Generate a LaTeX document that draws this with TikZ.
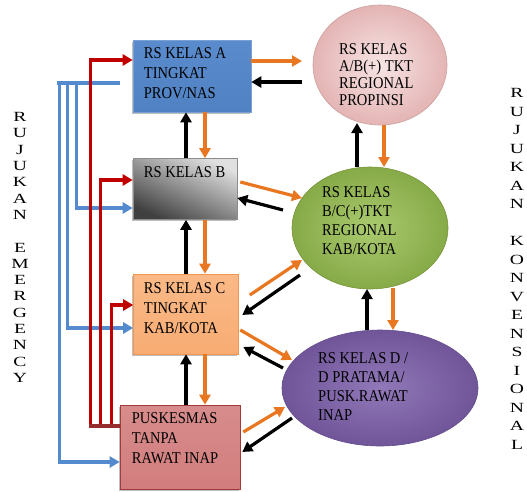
\documentclass[tikz,border=0pt]{standalone}
\usepackage{fontspec}
\setmainfont{Liberation Serif}
\newfontfamily\widefont{Liberation Serif}[FakeStretch=1.4]
\newfontfamily\boxfont{Liberation Serif}[FakeStretch=0.88]
\usetikzlibrary{arrows.meta,shadows,shapes.geometric}

\definecolor{rjorange}{RGB}{233,119,34}
\definecolor{rjred}{RGB}{192,0,0}
\definecolor{rjbar}{RGB}{150,45,45}
\definecolor{rjblue}{RGB}{84,138,206}

\tikzstyle{orangearr} = [draw=rjorange, line width=3.2pt, -{Triangle[length=10pt,width=11pt]}]
\tikzstyle{blackarr} = [draw=black, line width=3.2pt, -{Triangle[length=10pt,width=11pt]}]
\tikzstyle{redarr} = [draw=rjred, line width=3.2pt, -{Triangle[length=10pt,width=11pt]}]
\tikzstyle{bluearr} = [draw=rjblue, line width=3.2pt, -{Triangle[length=10pt,width=11pt]}]
\tikzstyle{box} = [rectangle, inner sep=0pt, line width=0.6pt, drop shadow={shadow xshift=-1.5pt, shadow yshift=-1.5pt, opacity=0.5}]
\tikzstyle{oval} = [ellipse, inner sep=0pt, line width=0.6pt]
\tikzstyle{lbl} = [inner sep=0pt, anchor=west, align=left, font=\boxfont\fontsize{16.5}{20}\selectfont]
\tikzstyle{side} = [inner sep=0pt, align=center, font=\widefont\fontsize{14}{16.3}\selectfont]

\begin{document}
\begin{tikzpicture}[x=1pt, y=-1pt]
\useasboundingbox (0,0) rectangle (527,491);
%begin boxes
\node[box, draw={rgb,255:red,120;green,160;blue,210}, top color={rgb,255:red,90;green,140;blue,205}, middle color={rgb,255:red,125;green,165;blue,220}, bottom color={rgb,255:red,80;green,130;blue,195}, minimum width=118pt, minimum height=72pt] (A) at (192,76) {};
\node[box, draw=black!45, top color=black!12, bottom color=black!75, shading angle=-25, minimum width=104pt, minimum height=61pt] (B) at (185,189) {};
\node[box, draw={rgb,255:red,240;green,150;blue,80}, top color={rgb,255:red,250;green,185;blue,135}, middle color={rgb,255:red,245;green,148;blue,65}, bottom color={rgb,255:red,248;green,172;blue,115}, minimum width=105pt, minimum height=80pt] (C) at (186,314) {};
\node[box, draw={rgb,255:red,160;green,60;blue,60}, top color={rgb,255:red,215;green,140;blue,140}, middle color={rgb,255:red,192;green,80;blue,77}, bottom color={rgb,255:red,210;green,125;blue,125}, minimum width=120pt, minimum height=84pt] (P) at (180,447) {};
%end boxes
%begin ovals
\node[oval, draw={rgb,255:red,205;green,160;blue,160}, inner color={rgb,255:red,247;green,228;blue,228}, outer color={rgb,255:red,228;green,180;blue,180}, minimum width=134pt, minimum height=120pt] (pink) at (380,65) {};
\node[oval, draw={rgb,255:red,120;green,150;blue,60}, inner color={rgb,255:red,170;green,202;blue,110}, outer color={rgb,255:red,135;green,170;blue,72}, minimum width=156pt, minimum height=122pt] (green) at (370,228) {};
\node[oval, draw={rgb,255:red,100;green,75;blue,140}, inner color={rgb,255:red,145;green,120;blue,185}, outer color={rgb,255:red,112;green,86;blue,152}, minimum width=196pt, minimum height=116pt] (purple) at (380,388) {};
%end ovals
%begin texts
\node[lbl] (tA) at ([shift={(11,-3)}]A.west) {RS KELAS A\\TINGKAT\\PROV/NAS};
\node[lbl] (tB) at ([shift={(11,-17)}]B.west) {RS KELAS B};
\node[lbl] (tC) at ([shift={(10.5,-6)}]C.west) {RS KELAS C\\TINGKAT\\KAB/KOTA};
\node[lbl] (tP) at ([shift={(12,-9)}]P.west) {PUSKESMAS\\TANPA\\RAWAT INAP};
\node[lbl, font=\boxfont\fontsize{16.5}{17}\selectfont] (tpink) at ([shift={(-41,10)}]pink.center) {RS KELAS\\A/B(+) TKT\\REGIONAL\\PROPINSI};
\node[lbl, font=\boxfont\fontsize{16.5}{19}\selectfont] (tgreen) at ([shift={(-48,-7)}]green.center) {RS KELAS\\B/C(+)TKT\\REGIONAL\\KAB/KOTA};
\node[lbl, font=\boxfont\fontsize{16.5}{19}\selectfont] (tpurple) at ([shift={(-62,-1)}]purple.center) {RS KELAS D /\\D PRATAMA/\\PUSK.RAWAT\\INAP};
\node[side] (emg) at (20,247.5) {R\\U\\J\\U\\K\\A\\N\\ \\E\\M\\E\\R\\G\\E\\N\\C\\Y};
\node[side, font=\widefont\fontsize{14}{18.5}\selectfont] (konv) at (517,269) {R\\U\\J\\U\\K\\A\\N\\ \\K\\O\\N\\V\\E\\N\\S\\I\\O\\N\\A\\L};
%end texts
%begin emergency lines
\draw[draw=rjblue, line width=3.2pt] ([shift={(-13,7)}]A.west) -- ([shift={(-76,7)}]A.west);
\draw[bluearr] ([shift={(-73,7)}]A.west) |- ([shift={(0,15)}]P.west);
\draw[bluearr] ([shift={(-65,7)}]A.west) |- ([shift={(0,14)}]C.west);
\draw[bluearr] ([shift={(-56,7)}]A.west) |- ([shift={(0,19)}]B.west);
\draw[redarr] ([shift={(-29,-21)}]P.west) |- ([shift={(0,-16)}]A.west);
\draw[redarr] ([shift={(-19,-21)}]P.west) |- ([shift={(0,-9)}]B.west);
\draw[redarr] ([shift={(-8,-21)}]P.west) |- ([shift={(0,-9)}]C.west);
\draw[draw=rjbar, line width=3.2pt] ([shift={(-31,-21)}]P.west) -- ([shift={(0,-21)}]P.west);
%end emergency lines
%begin conventional lines
\draw[orangearr] ([shift={(0,-15)}]A.east) -- ([shift={(-78,-4)}]pink.center);
\draw[blackarr] ([shift={(-78,17)}]pink.center) -- ([shift={(0,6)}]A.east);
\draw[blackarr] ([shift={(1,0)}]B.north) -- ([shift={(-6,0)}]A.south);
\draw[orangearr] ([shift={(13,0)}]A.south) -- ([shift={(20,0)}]B.north);
\draw[blackarr] ([shift={(-13,-61)}]green.center) -- ([shift={(-23,58)}]pink.center);
\draw[orangearr] ([shift={(4,60)}]pink.center) -- ([shift={(14,-61)}]green.center);
\draw[orangearr] ([shift={(3,-7)}]B.east) -- ([shift={(-68,-30)}]green.center);
\draw[blackarr] ([shift={(-87,-18)}]green.center) -- ([shift={(0,9)}]B.east);
\draw[blackarr] (C.north) -- ([shift={(1,0)}]B.south);
\draw[orangearr] ([shift={(20,0)}]B.south) -- ([shift={(19,0)}]C.north);
\draw[orangearr] ([shift={(11,-19)}]C.east) -- ([shift={(-68,32)}]green.center);
\draw[blackarr] ([shift={(-70,47)}]green.center) -- ([shift={(3.5,1)}]C.east);
\draw[orangearr] ([shift={(1.5,16)}]C.east) -- ([shift={(-88,-28)}]purple.center);
\draw[blackarr] ([shift={(-97,-20)}]purple.center) -- ([shift={(4.5,33)}]C.east);
\draw[blackarr] ([shift={(6,0)}]P.north) -- (C.south);
\draw[orangearr] ([shift={(19,0)}]C.south) -- ([shift={(25,0)}]P.north);
\draw[blackarr] ([shift={(-13,-58)}]purple.center) -- ([shift={(-3,61)}]green.center);
\draw[orangearr] ([shift={(23,60)}]green.center) -- ([shift={(13,-58)}]purple.center);
\draw[orangearr] ([shift={(3,-15)}]P.east) -- ([shift={(-95,19)}]purple.center);
\draw[blackarr] ([shift={(-88,30)}]purple.center) -- ([shift={(2,5)}]P.east);
%end conventional lines
\end{tikzpicture}
\end{document}
